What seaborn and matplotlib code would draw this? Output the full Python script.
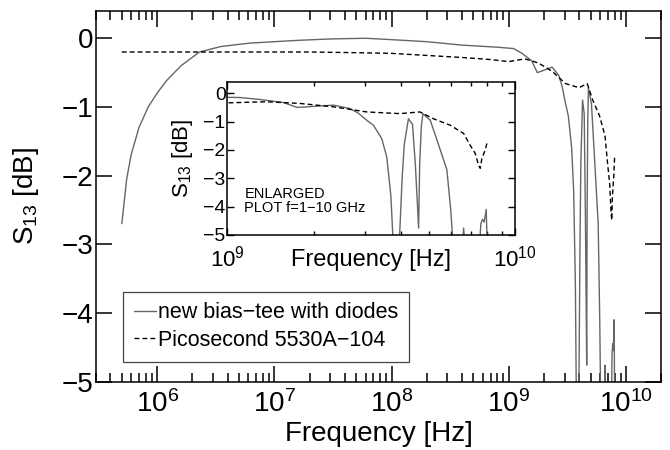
import numpy as np
import seaborn as sns
import matplotlib.pyplot as plt
from matplotlib.ticker import LogLocator, MultipleLocator, NullFormatter, NullLocator

# new bias-tee with diodes (solid gray)
freq_new = [5.0e5, 5.5e5, 6.0e5, 7.0e5, 8.4e5, 1.0e6, 1.2e6, 1.6e6, 2.3e6, 3.5e6,
            6.2e6, 1.6e7, 3.0e7, 6.0e7, 1.0e8, 2.0e8, 4.0e8, 8.0e8, 1.1e9, 1.3e9,
            1.57e9, 1.75e9, 1.9e9, 2.1e9, 2.34e9, 2.67e9, 2.85e9, 3.05e9, 3.22e9, 3.44e9,
            3.58e9, 3.70e9, 3.78e9, 3.95e9, 4.05e9, 4.12e9, 4.26e9, 4.40e9, 4.50e9, 4.58e9,
            4.62e9, 4.66e9, 4.72e9, 4.78e9, 5.07e9, 5.35e9, 5.79e9, 5.97e9, 6.10e9, 6.55e9,
            6.62e9, 6.70e9, 7.50e9, 7.60e9, 7.70e9, 7.80e9, 7.93e9, 8.00e9]
s13_new = [-2.70, -2.05, -1.70, -1.30, -1.00, -0.80, -0.62, -0.40, -0.20, -0.12,
           -0.07, -0.03, -0.01, 0.00, -0.02, -0.05, -0.10, -0.13, -0.15, -0.22,
           -0.33, -0.50, -0.48, -0.45, -0.42, -0.54, -0.70, -0.95, -1.13, -1.60,
           -2.24, -3.60, -5.50, -5.50, -3.00, -1.80, -0.90, -1.10, -2.50, -4.00,
           -4.76, -2.50, -1.20, -0.72, -0.95, -1.65, -2.70, -4.10, -5.50, -5.50,
           -4.76, -5.50, -5.50, -4.60, -4.45, -4.55, -4.10, -5.50]

# Picosecond 5530A-104 (dashed black)
freq_pico = [5.0e5, 1e6, 3e6, 1e7, 2e7, 5e7, 1e8, 2e8, 4e8,
             7e8, 1e9, 1.37e9, 1.79e9, 2.34e9, 3.05e9, 3.98e9, 4.67e9, 5.2e9, 5.95e9,
             6.62e9, 6.97e9, 7.26e9, 7.46e9, 7.56e9, 7.66e9, 7.87e9, 8.0e9]
s13_pico = [-0.20, -0.20, -0.20, -0.20, -0.20, -0.21, -0.22, -0.25, -0.28,
            -0.31, -0.34, -0.30, -0.36, -0.48, -0.66, -0.72, -0.66, -0.90, -1.13,
            -1.42, -1.83, -2.12, -2.54, -2.65, -2.30, -2.00, -1.71]

labels = ["new bias\u2212tee with diodes", "Picosecond 5530A\u2212104"]
y_ticks = [0, -1, -2, -3, -4, -5]

sns.set_style("ticks")
plt.rcParams['font.family'] = ['Liberation Sans', 'DejaVu Sans']
plt.rcParams['mathtext.fontset'] = 'custom'
plt.rcParams['mathtext.rm'] = 'Liberation Sans'
plt.rcParams['mathtext.it'] = 'Liberation Sans:italic'
plt.rcParams['axes.linewidth'] = 1.1
for k in ['text.color', 'axes.labelcolor', 'xtick.color', 'ytick.color', 'axes.edgecolor']:
    plt.rcParams[k] = 'black'

fig = plt.figure(figsize=(6.7, 4.5), dpi=100)
ax = fig.add_axes([0.143, 0.152, 0.844, 0.824])

gray = "#666666"
dash = (0, (3.5, 2.2))

sns.lineplot(x=freq_new, y=s13_new, ax=ax, color=gray, lw=1.0, estimator=None,
             sort=False, label=labels[0])
sns.lineplot(x=freq_pico, y=s13_pico, ax=ax, color="black", lw=1.0, estimator=None,
             sort=False, label=labels[1], linestyle=dash)

ax.set_xscale("log")
ax.set_xlim(3e5, 2e10)
ax.set_ylim(-5, 0.4)
ax.yaxis.set_major_locator(MultipleLocator(1))
ax.yaxis.set_minor_locator(NullLocator())
ax.xaxis.set_major_locator(LogLocator(base=10))
ax.xaxis.set_minor_locator(LogLocator(base=10, subs=np.arange(2, 10)))
ax.xaxis.set_minor_formatter(NullFormatter())
ax.tick_params(which="both", direction="in", top=True, right=True, labelsize=20,
               color="black", width=1.1)
ax.tick_params(which="major", length=11.5)
ax.tick_params(which="minor", length=6.5)
ax.tick_params(axis="x", pad=6)
ax.tick_params(axis="y", pad=2)

ax.set_xlabel("Frequency [Hz]", fontsize=20)
ax.set_ylabel("S$_{\\mathrm{13}}$ [dB]", fontsize=20)
ax.xaxis.set_label_coords(0.5, -0.105)
ax.yaxis.set_label_coords(-0.097, 0.5)

leg = ax.legend(loc="lower left", bbox_to_anchor=(0.048, 0.054), borderaxespad=0,
                fontsize=15.5, frameon=True, fancybox=False, framealpha=1,
                edgecolor="#444444", handlelength=1.05, handletextpad=0.1,
                borderpad=0.5, labelspacing=0.3)
leg.get_frame().set_linewidth(0.9)

# inset: enlarged 1-10 GHz
axi = fig.add_axes([0.339, 0.478, 0.430, 0.340])
axi.set_facecolor("white")
sns.lineplot(x=freq_new, y=s13_new, ax=axi, color=gray, lw=1.0, estimator=None,
             sort=False, legend=False)
sns.lineplot(x=freq_pico, y=s13_pico, ax=axi, color="black", lw=1.0, estimator=None,
             sort=False, linestyle=dash, legend=False)
axi.set_xscale("log")
axi.set_xlim(1e9, 1e10)
axi.set_ylim(-5, 0.4)
axi.set_yticks(y_ticks)
axi.yaxis.set_minor_locator(NullLocator())
axi.xaxis.set_major_locator(LogLocator(base=10))
axi.xaxis.set_minor_locator(LogLocator(base=10, subs=np.arange(2, 10)))
axi.xaxis.set_minor_formatter(NullFormatter())
axi.tick_params(which="both", direction="in", top=True, right=True, color="black", width=1.0)
axi.tick_params(which="major", length=5)
axi.tick_params(which="minor", length=3)
axi.tick_params(axis="y", labelsize=14, pad=1)
axi.tick_params(axis="x", labelsize=16, pad=8)
for s in axi.spines.values():
    s.set_linewidth(1.1)
axi.set_xlabel("Frequency [Hz]", fontsize=17)
axi.set_ylabel("S$_{\\mathrm{13}}$ [dB]", fontsize=16)
axi.xaxis.set_label_coords(0.5, -0.095)
axi.yaxis.set_label_coords(-0.11, 0.5)
axi.text(0.06, 0.22, "ENLARGED\nPLOT f=1\u221210 GHz", transform=axi.transAxes,
         fontsize=10.5, va="center", ha="left", linespacing=1.0)

fig.savefig("out.png", dpi=100)
